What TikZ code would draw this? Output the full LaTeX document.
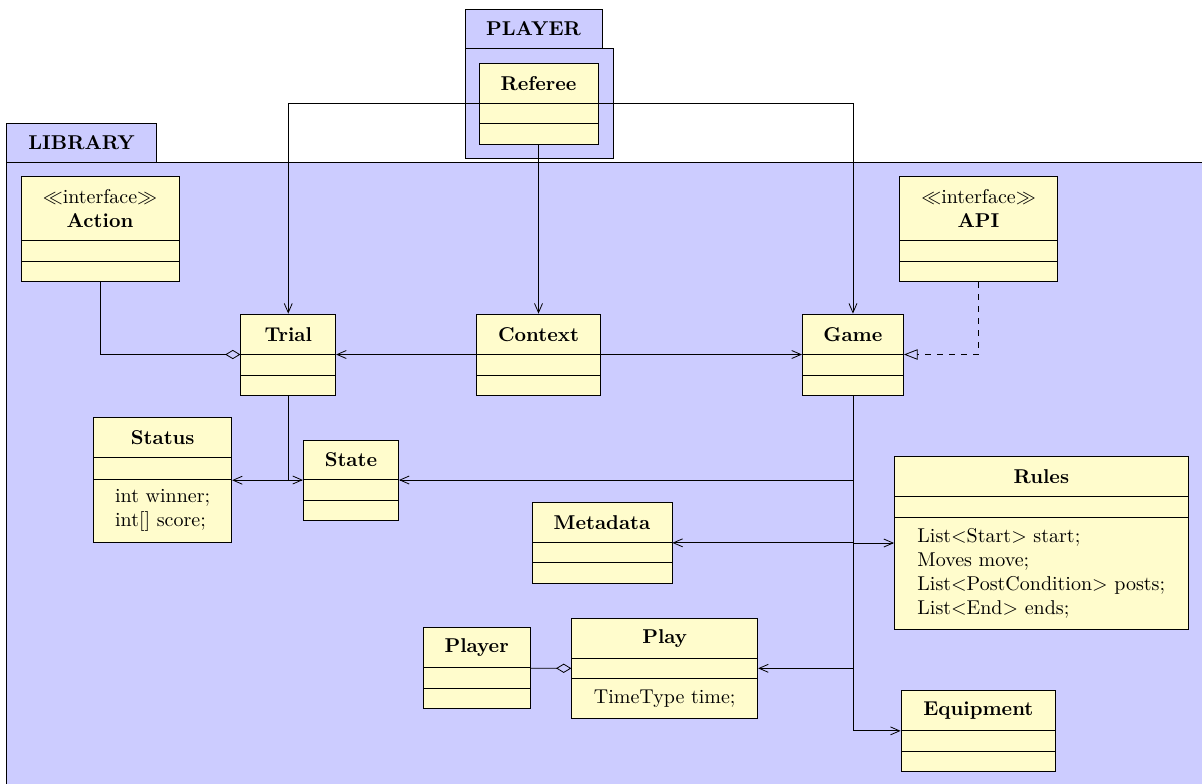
\documentclass[tikz,border=0pt]{standalone}
\usetikzlibrary{arrows.meta,fit}

% A UML class: name, left, top, right, bottom, first and second separator, title
\newcommand\umlcls[8]{%
  \node[classbox, fit={(#2,#3) (#4,#5)}] (#1) {};
  \draw (#2,#6) -- (#4,#6) (#2,#7) -- (#4,#7);
  \node[ctitle] (#1-t) at ({(#2+#4)/2},{(#3+#6)/2}) {#8};
}

\begin{document}
\begin{tikzpicture}[x=0.5pt,y=-0.5pt,
  pkg/.style={draw, fill=blue!20, inner sep=0pt},
  pkgtitle/.style={font=\bfseries, inner sep=0pt},
  classbox/.style={draw, fill=yellow!20, inner sep=0pt},
  ctitle/.style={font=\bfseries, align=center, inner sep=0pt},
  cbody/.style={align=left, inner sep=0pt},
  assoc/.style={-{Straight Barb[length=4.6pt,width=4pt]}},
  aggr/.style={-{Diamond[open,length=7.6pt,width=4.6pt]}},
  realize/.style={dashed, -{Triangle[open,length=6.8pt,width=5.2pt]}},
]
\clip (0,0) rectangle (1202,783);

% packages
\node[pkg, fit={(6.3,123) (156.6,162.3)}] (LIBRARY-tab) {};
\node[pkg, fit={(6.3,162.3) (1240,820)}] (LIBRARY) {};
\node[pkgtitle] (LIBRARY-t) at (81.5,142.5) {LIBRARY};

\node[pkg, fit={(465,9.7) (602,48.3)}] (PLAYER-tab) {};
\node[pkg, fit={(465,48.3) (613,158.3)}] (PLAYER) {};
\node[pkgtitle] (PLAYER-t) at (533.5,29) {PLAYER};

% classes
\umlcls{Referee}{479}{63}{598}{144.3}{103.3}{123.7}{Referee}
\umlcls{Action}{21}{176.3}{179}{281.7}{240.3}{261.3}{{\mdseries $\ll$interface$\gg$}\\Action}
\umlcls{API}{899.4}{176.3}{1057.6}{281.7}{240.3}{261.3}{{\mdseries $\ll$interface$\gg$}\\API}
\umlcls{Trial}{240.8}{314}{335.7}{395}{354.7}{375}{Trial}
\umlcls{Context}{476.5}{314}{600.5}{395}{354.7}{375}{Context}
\umlcls{Game}{802.3}{314}{903.6}{395}{354.7}{375}{Game}
\umlcls{Status}{93.7}{417.7}{231.7}{542.7}{457.7}{479}{Status}
\node[cbody] (Status-b) at (162.7,510.8) {int winner;\\int[] score;};
\umlcls{State}{303.3}{440}{398.6}{520}{479.7}{500}{State}
\umlcls{Rules}{894.4}{456.7}{1188.3}{629.3}{496.7}{517.3}{Rules}
\node[cbody] (Rules-b) at (1041.3,573.3) {List$<$Start$>$ start;\\Moves move;\\List$<$PostCondition$>$ posts;\\List$<$End$>$ ends;};
\umlcls{Metadata}{532}{502.3}{672}{583.3}{542}{562.7}{Metadata}
\umlcls{Player}{423.3}{627.7}{530}{708.7}{667.7}{688.3}{Player}
\umlcls{Play}{571.7}{618.3}{757.7}{718.3}{658}{678.3}{Play}
\node[cbody] (Play-b) at (664.7,698.3) {TimeType time;};
\umlcls{Equipment}{901}{690.7}{1055.7}{771}{730.3}{751}{Equipment}

% associations
\draw[assoc] (Referee.west) -| (Trial.north);
\draw[assoc] (Referee.east) -| (Game.north);
\draw[assoc] (Referee.south) -- (Context.north);
\draw[aggr] (Action.south) |- (Trial.west);
\draw[assoc] (Context.west) -- (Trial.east);
\draw[assoc] (Context.east) -- (Game.west);
\draw[realize] (API.south) |- (Game.east);
\draw[assoc] (Trial.south) |- (Status.east);
\draw[assoc] (Trial.south) |- (State.west);
\draw[assoc] (Game.south) |- (State.east);
\draw[assoc] (Game.south) |- (Metadata.east);
\draw[assoc] (Game.south) |- (Rules.west);
\draw[assoc] (Game.south) |- (Play.east);
\draw[assoc] (Game.south) |- (Equipment.west);
\draw[aggr] (Player.east) -- (Play.west);
\end{tikzpicture}
\end{document}
